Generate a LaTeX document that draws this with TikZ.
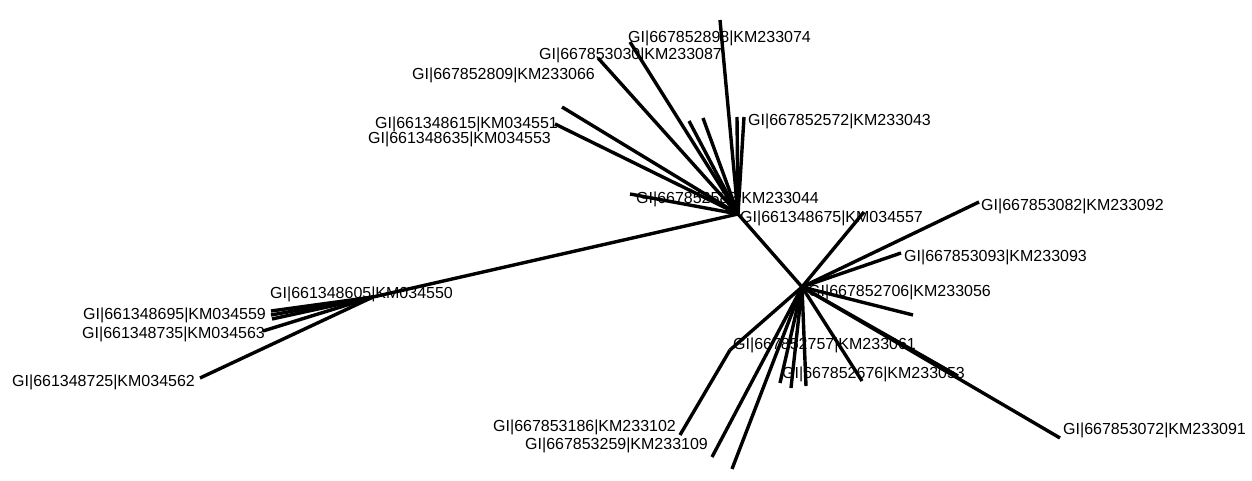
\documentclass[tikz,border=0pt]{standalone}
\usepackage{fontspec}
\setmainfont{Liberation Sans}
\begin{document}
\begin{tikzpicture}[x=1pt,y=-1pt,
  lbl/.style={anchor=west,inner sep=0pt,yshift=-2pt,font=\fontsize{16}{19}\selectfont},
  branch/.style={line width=3.4pt,black}]
\path[use as bounding box,fill=white] (0,0) rectangle (1252,481);
% labels
\node[lbl] (l1)  at (628,36)  {GI|667852898|KM233074};
\node[lbl] (l2)  at (539,53)  {GI|667853030|KM233087};
\node[lbl] (l3)  at (412,73)  {GI|667852809|KM233066};
\node[lbl] (l4)  at (375,122) {GI|661348615|KM034551};
\node[lbl] (l5)  at (368,137) {GI|661348635|KM034553};
\node[lbl] (l6)  at (748,119) {GI|667852572|KM233043};
\node[lbl] (l7)  at (636,197) {GI|667852582|KM233044};
\node[lbl] (l8)  at (740,216) {GI|661348675|KM034557};
\node[lbl] (l9)  at (981,204) {GI|667853082|KM233092};
\node[lbl] (l10) at (904,255) {GI|667853093|KM233093};
\node[lbl] (l11) at (808,290) {GI|667852706|KM233056};
\node[lbl] (l12) at (733,343) {GI|667852757|KM233061};
\node[lbl] (l13) at (782,372) {GI|667852676|KM233053};
\node[lbl] (l14) at (1063,428) {GI|667853072|KM233091};
\node[lbl] (l15) at (493,425) {GI|667853186|KM233102};
\node[lbl] (l16) at (525,443) {GI|667853259|KM233109};
\node[lbl] (l17) at (270,292) {GI|661348605|KM034550};
\node[lbl] (l18) at (83,313)  {GI|661348695|KM034559};
\node[lbl] (l19) at (82,332)  {GI|661348735|KM034563};
\node[lbl] (l20) at (12,380)  {GI|661348725|KM034562};
% hubs
\coordinate (T) at (738,214);
\coordinate (B) at (802,287);
\coordinate (L) at (373,297);
\coordinate (N) at (730,350);
% top leaves
\coordinate (t1) at (720,20);
\coordinate (t2) at (630,42);
\coordinate (t3) at (598,58);
\coordinate (t4) at (562,107);
\coordinate (t5) at (555,124);
\coordinate (t6) at (689,121);
\coordinate (t7) at (703,118);
\coordinate (t8) at (737,117);
\coordinate (t9) at (744,117);
\coordinate (t10) at (630,194);
% bottom leaves
\coordinate (b1) at (979,202);
\coordinate (b2) at (901,253);
\coordinate (b3) at (864,212);
\coordinate (b4) at (913,315);
\coordinate (b5) at (1060,438);
\coordinate (b6) at (958,376);
\coordinate (b7) at (862,381);
\coordinate (b8) at (806,386);
\coordinate (b9) at (791,388);
\coordinate (b10) at (780,383);
\coordinate (b11) at (732,469);
\coordinate (b12) at (712,457);
\coordinate (b13) at (680,435);
% left leaves
\coordinate (a1) at (271,311);
\coordinate (a2) at (271,315);
\coordinate (a3) at (272,319);
\coordinate (a4) at (263,331);
\coordinate (a5) at (200,378);
% branches
\draw[branch] (T) -- (L);
\draw[branch] (T) -- (B);
\foreach \n in {t1,t2,t3,t4,t5,t6,t7,t8,t9,t10} \draw[branch] (T) -- (\n);
\foreach \n in {b1,b2,b3,b4,b5,b6,b7,b8,b9,b10,b11,b12} \draw[branch] (B) -- (\n);
\draw[branch] (B) -- (N);
\draw[branch] (N) -- (b13);
\foreach \n in {a1,a2,a3,a4,a5} \draw[branch] (L) -- (\n);
\end{tikzpicture}
\end{document}
